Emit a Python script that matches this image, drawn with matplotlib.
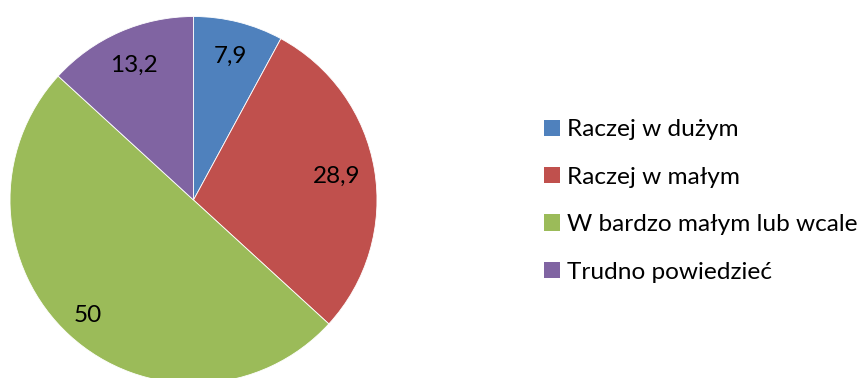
import numpy as np
import matplotlib
matplotlib.use("Agg")
import matplotlib.pyplot as plt
from matplotlib.patches import Patch

categories = ["Raczej w dużym", "Raczej w małym", "W bardzo małym lub wcale", "Trudno powiedzieć"]
values = [7.9, 28.9, 50, 13.2]
value_labels = ["7,9", "28,9", "50", "13,2"]
colors = ["#4F81BD", "#C0504D", "#9BBB59", "#8064A2"]

plt.rcParams["font.family"] = ["Lato", "DejaVu Sans"]

W, H = 862, 378
fig = plt.figure(figsize=(W / 100, H / 100), dpi=100)

# pie axes placed in pixel terms: centre (193.5, 178 from bottom), radius 183.5
cx, cy, r = 193.5, 178, 183.5
ax = fig.add_axes([(cx - r) / W, (cy - r) / H, 2 * r / W, 2 * r / H])
wedges, _ = ax.pie(values, colors=colors, startangle=90, counterclock=False,
                   radius=1.0, wedgeprops=dict(edgecolor="white", linewidth=0.6))
ax.set_xlim(-1, 1)
ax.set_ylim(-1, 1)
ax.axis("off")

dists = [0.81, 0.79, 0.85, 0.80]
for w, lab, d in zip(wedges, value_labels, dists):
    ang = np.deg2rad((w.theta1 + w.theta2) / 2)
    ax.text(d * np.cos(ang), d * np.sin(ang), lab, ha="center", va="center",
            fontsize=17.5, color="black")

handles = [Patch(facecolor=c, edgecolor="none") for c in colors]
fig.legend(handles, categories, loc="center left",
           bbox_to_anchor=(544 / W, 1 - 201 / H), frameon=False,
           fontsize=17.6, handlelength=0.66, handleheight=0.66,
           handletextpad=0.27, labelspacing=1.08, borderpad=0, borderaxespad=0)

fig.savefig("out.png", dpi=100)
